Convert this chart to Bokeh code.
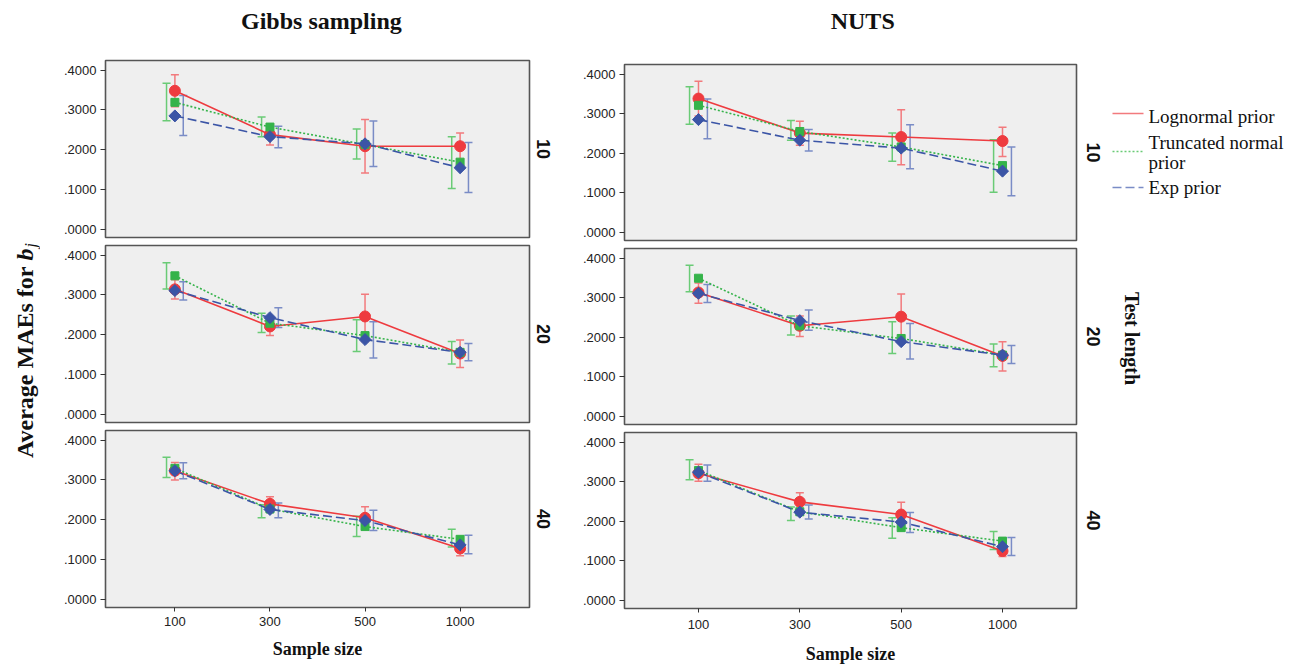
import math
from bokeh.plotting import figure
from bokeh.layouts import row, column
from bokeh.models import (Range1d, FixedTicker, CustomJSTickFormatter, ColumnDataSource,
                          Whisker, TeeHead)
from bokeh.core.properties import value
from bokeh.embed import file_html
from bokeh.resources import INLINE

# ---------------- data ----------------
SAMPLE_SIZES = ["100", "300", "500", "1000"]
SERIES = ["Lognormal prior", "Truncated normal prior", "Exp prior"]
TEST_LENGTHS = ["10", "20", "40"]
METHODS = ["Gibbs sampling", "NUTS"]
Y_TICKS = [0.0, 0.1, 0.2, 0.3, 0.4]

# Gibbs sampling, test length 10
GIBBS_10_LOGN = [0.348, 0.238, 0.209, 0.209]
GIBBS_10_LOGN_LO = [0.308, 0.212, 0.142, 0.176]
GIBBS_10_LOGN_HI = [0.388, 0.264, 0.276, 0.242]
GIBBS_10_TRUNC = [0.319, 0.257, 0.213, 0.169]
GIBBS_10_TRUNC_LO = [0.273, 0.233, 0.177, 0.103]
GIBBS_10_TRUNC_HI = [0.367, 0.282, 0.252, 0.233]
GIBBS_10_EXP = [0.285, 0.233, 0.215, 0.155]
GIBBS_10_EXP_LO = [0.236, 0.205, 0.158, 0.093]
GIBBS_10_EXP_HI = [0.336, 0.259, 0.272, 0.218]

# Gibbs sampling, test length 20
GIBBS_20_LOGN = [0.314, 0.221, 0.246, 0.153]
GIBBS_20_LOGN_LO = [0.290, 0.198, 0.183, 0.118]
GIBBS_20_LOGN_HI = [0.338, 0.244, 0.302, 0.187]
GIBBS_20_TRUNC = [0.348, 0.229, 0.198, 0.156]
GIBBS_20_TRUNC_LO = [0.315, 0.206, 0.158, 0.127]
GIBBS_20_TRUNC_HI = [0.381, 0.254, 0.238, 0.183]
GIBBS_20_EXP = [0.311, 0.243, 0.188, 0.156]
GIBBS_20_EXP_LO = [0.287, 0.218, 0.142, 0.135]
GIBBS_20_EXP_HI = [0.333, 0.268, 0.233, 0.178]

# Gibbs sampling, test length 40
GIBBS_40_LOGN = [0.323, 0.240, 0.205, 0.128]
GIBBS_40_LOGN_LO = [0.300, 0.222, 0.177, 0.110]
GIBBS_40_LOGN_HI = [0.344, 0.258, 0.233, 0.142]
GIBBS_40_TRUNC = [0.329, 0.227, 0.183, 0.151]
GIBBS_40_TRUNC_LO = [0.306, 0.205, 0.158, 0.132]
GIBBS_40_TRUNC_HI = [0.357, 0.238, 0.209, 0.176]
GIBBS_40_EXP = [0.323, 0.226, 0.198, 0.137]
GIBBS_40_EXP_LO = [0.303, 0.205, 0.173, 0.115]
GIBBS_40_EXP_HI = [0.343, 0.242, 0.224, 0.161]

# NUTS, test length 10
NUTS_10_LOGN = [0.338, 0.251, 0.241, 0.231]
NUTS_10_LOGN_LO = [0.294, 0.220, 0.171, 0.192]
NUTS_10_LOGN_HI = [0.382, 0.281, 0.310, 0.266]
NUTS_10_TRUNC = [0.321, 0.255, 0.216, 0.169]
NUTS_10_TRUNC_LO = [0.273, 0.233, 0.180, 0.102]
NUTS_10_TRUNC_HI = [0.368, 0.283, 0.251, 0.234]
NUTS_10_EXP = [0.285, 0.233, 0.213, 0.155]
NUTS_10_EXP_LO = [0.237, 0.206, 0.161, 0.093]
NUTS_10_EXP_HI = [0.337, 0.260, 0.272, 0.216]

# NUTS, test length 20
NUTS_20_LOGN = [0.313, 0.229, 0.252, 0.153]
NUTS_20_LOGN_LO = [0.286, 0.202, 0.191, 0.115]
NUTS_20_LOGN_HI = [0.337, 0.254, 0.309, 0.189]
NUTS_20_TRUNC = [0.349, 0.229, 0.197, 0.155]
NUTS_20_TRUNC_LO = [0.315, 0.206, 0.159, 0.126]
NUTS_20_TRUNC_HI = [0.382, 0.254, 0.239, 0.183]
NUTS_20_EXP = [0.311, 0.242, 0.189, 0.155]
NUTS_20_EXP_LO = [0.288, 0.218, 0.145, 0.134]
NUTS_20_EXP_HI = [0.333, 0.269, 0.235, 0.179]

# NUTS, test length 40
NUTS_40_LOGN = [0.321, 0.249, 0.217, 0.125]
NUTS_40_LOGN_LO = [0.301, 0.226, 0.186, 0.111]
NUTS_40_LOGN_HI = [0.344, 0.272, 0.248, 0.142]
NUTS_40_TRUNC = [0.328, 0.224, 0.184, 0.150]
NUTS_40_TRUNC_LO = [0.305, 0.202, 0.157, 0.129]
NUTS_40_TRUNC_HI = [0.355, 0.236, 0.209, 0.174]
NUTS_40_EXP = [0.324, 0.223, 0.198, 0.136]
NUTS_40_EXP_LO = [0.301, 0.206, 0.172, 0.114]
NUTS_40_EXP_HI = [0.342, 0.241, 0.222, 0.159]

PANEL_DATA = {
    ("Gibbs sampling", "10"): [(GIBBS_10_LOGN, GIBBS_10_LOGN_LO, GIBBS_10_LOGN_HI),
                               (GIBBS_10_TRUNC, GIBBS_10_TRUNC_LO, GIBBS_10_TRUNC_HI),
                               (GIBBS_10_EXP, GIBBS_10_EXP_LO, GIBBS_10_EXP_HI)],
    ("Gibbs sampling", "20"): [(GIBBS_20_LOGN, GIBBS_20_LOGN_LO, GIBBS_20_LOGN_HI),
                               (GIBBS_20_TRUNC, GIBBS_20_TRUNC_LO, GIBBS_20_TRUNC_HI),
                               (GIBBS_20_EXP, GIBBS_20_EXP_LO, GIBBS_20_EXP_HI)],
    ("Gibbs sampling", "40"): [(GIBBS_40_LOGN, GIBBS_40_LOGN_LO, GIBBS_40_LOGN_HI),
                               (GIBBS_40_TRUNC, GIBBS_40_TRUNC_LO, GIBBS_40_TRUNC_HI),
                               (GIBBS_40_EXP, GIBBS_40_EXP_LO, GIBBS_40_EXP_HI)],
    ("NUTS", "10"): [(NUTS_10_LOGN, NUTS_10_LOGN_LO, NUTS_10_LOGN_HI),
                     (NUTS_10_TRUNC, NUTS_10_TRUNC_LO, NUTS_10_TRUNC_HI),
                     (NUTS_10_EXP, NUTS_10_EXP_LO, NUTS_10_EXP_HI)],
    ("NUTS", "20"): [(NUTS_20_LOGN, NUTS_20_LOGN_LO, NUTS_20_LOGN_HI),
                     (NUTS_20_TRUNC, NUTS_20_TRUNC_LO, NUTS_20_TRUNC_HI),
                     (NUTS_20_EXP, NUTS_20_EXP_LO, NUTS_20_EXP_HI)],
    ("NUTS", "40"): [(NUTS_40_LOGN, NUTS_40_LOGN_LO, NUTS_40_LOGN_HI),
                     (NUTS_40_TRUNC, NUTS_40_TRUNC_LO, NUTS_40_TRUNC_HI),
                     (NUTS_40_EXP, NUTS_40_EXP_LO, NUTS_40_EXP_HI)],
}

# ---------------- styles ----------------
STYLE = {
    "Lognormal prior": dict(color="#ee3b3f", err="#f27a7d", dash="solid",
                            marker="circle", size=11, angle=0.0, off=0.0),
    "Truncated normal prior": dict(color="#35b34a", err="#6acb76", dash="2 2",
                                   marker="square", size=8, angle=0.0, off=-0.088),
    "Exp prior": dict(color="#3b55a6", err="#7a8cc6", dash="9 4",
                      marker="square", size=8.5, angle=math.pi / 4, off=0.088),
}
BG = "#efefef"
FRAME = "#555555"
SERIF_NAME = "Liberation Serif"
SANS_NAME = "Liberation Sans"
SERIF = value(SERIF_NAME)
SANS = value(SANS_NAME)
TOTAL_H = 668


def blank(w, h):
    p = figure(width=w, height=h, x_range=Range1d(0, w), y_range=Range1d(0, h),
               x_axis_location=None, y_axis_location=None, toolbar_location=None,
               output_backend="svg", min_border=0)
    p.outline_line_color = None
    p.grid.visible = False
    return p


def panel(method, tl, width, frame_h, left_b, right_b, top_b, bottom_b, with_x,
          tick_standoff=5, label_standoff=9):
    p = figure(width=width, height=frame_h + top_b + bottom_b,
               x_range=Range1d(-0.73, 3.73), y_range=Range1d(-0.02, 0.424),
               toolbar_location=None, output_backend="svg",
               x_axis_location="below" if with_x else None,
               min_border_left=left_b, min_border_right=right_b,
               min_border_top=top_b, min_border_bottom=bottom_b)
    p.background_fill_color = BG
    p.outline_line_color = FRAME
    p.outline_line_width = 1.6
    p.grid.visible = False

    ya = p.yaxis[0]
    ya.ticker = FixedTicker(ticks=Y_TICKS)
    ya.formatter = CustomJSTickFormatter(code="return tick.toFixed(4).replace(/^0/, '');")
    ya.major_label_text_font = SANS_NAME
    ya.major_label_text_font_size = "13px"
    ya.major_label_text_color = "#222222"
    ya.major_tick_out = 5
    ya.major_tick_in = 0
    ya.minor_tick_out = 0
    ya.minor_tick_in = 0
    ya.major_tick_line_color = "#333333"
    ya.axis_line_color = None
    ya.major_label_standoff = 4

    if with_x:
        xa = p.xaxis[0]
        xa.ticker = FixedTicker(ticks=list(range(len(SAMPLE_SIZES))))
        xa.major_label_overrides = {i: s for i, s in enumerate(SAMPLE_SIZES)}
        xa.major_label_text_font = SANS_NAME
        xa.major_label_text_font_size = "13px"
        xa.major_label_text_color = "#222222"
        xa.major_tick_out = 4
        xa.major_tick_in = 0
        xa.minor_tick_out = 0
        xa.minor_tick_in = 0
        xa.major_tick_line_color = "#333333"
        xa.axis_line_color = None
        xa.major_label_standoff = tick_standoff
        xa.axis_label = "Sample size"
        xa.axis_label_text_font = SERIF_NAME
        xa.axis_label_text_font_size = "18px"
        xa.axis_label_text_font_style = "bold"
        xa.axis_label_text_color = "#111111"
        xa.axis_label_standoff = label_standoff

    xs = list(range(len(SAMPLE_SIZES)))
    data = PANEL_DATA[(method, tl)]
    # error bars (dodged)
    for name, (mean, lo, hi) in zip(SERIES, data):
        st = STYLE[name]
        src = ColumnDataSource(dict(x=[x + st["off"] for x in xs], lo=lo, hi=hi))
        w = Whisker(source=src, base="x", lower="lo", upper="hi", dimension="height",
                    line_color=st["err"], line_width=1.5, level="underlay",
                    upper_head=TeeHead(size=8, line_color=st["err"], line_width=1.5),
                    lower_head=TeeHead(size=8, line_color=st["err"], line_width=1.5))
        p.add_layout(w)
    # lines
    for name, (mean, lo, hi) in zip(SERIES, data):
        st = STYLE[name]
        p.line(xs, mean, line_color=st["color"], line_width=1.6, line_dash=st["dash"])
    # markers
    for name, (mean, lo, hi) in zip(SERIES, data):
        st = STYLE[name]
        p.scatter(xs, mean, marker=st["marker"], size=st["size"], angle=st["angle"],
                  fill_color=st["color"], line_color=st["color"])
    return p


# ---------------- left column (Gibbs) ----------------
L_W = 491
title_L = blank(L_W, 56)
title_L.text(x=[250], y=[56 - 20], text=[METHODS[0]], text_font=SERIF,
             text_font_size="24px", text_font_style="bold", text_align="center",
             text_baseline="middle", text_color="#111111")
L1 = panel(METHODS[0], "10", L_W, 177, 65, 2, 4, 4, False)
L2 = panel(METHODS[0], "20", L_W, 177, 65, 2, 4, 4, False)
L3 = panel(METHODS[0], "40", L_W, 177, 65, 2, 4, 61, True, tick_standoff=5, label_standoff=10)
left_col = column(title_L, L1, L2, L3)

# ---------------- right column (NUTS) ----------------
R_W = 518
title_R = blank(R_W, 60)
title_R.text(x=[273], y=[60 - 20], text=[METHODS[1]], text_font=SERIF,
             text_font_size="24px", text_font_style="bold", text_align="center",
             text_baseline="middle", text_color="#111111")
R1 = panel(METHODS[1], "10", R_W, 176, 64, 2, 4, 4, False)
R2 = panel(METHODS[1], "20", R_W, 176, 64, 2, 4, 4, False)
R3 = panel(METHODS[1], "40", R_W, 176, 64, 2, 4, 60, True, tick_standoff=7, label_standoff=12)
right_col = column(title_R, R1, R2, R3)

# ---------------- y label strip ----------------
ylab = blank(40, TOTAL_H)
ylab.text(x=[24], y=[TOTAL_H - 266], text=["Average MAEs for"], text_font=SERIF,
          text_font_size="24px", text_font_style="bold", text_align="right",
          text_baseline="middle", angle=math.pi / 2, text_color="#111111")
ylab.text(x=[24], y=[TOTAL_H - 260], text=["b"], text_font=SERIF,
          text_font_size="24px", text_font_style="bold italic", text_align="left",
          text_baseline="middle", angle=math.pi / 2, text_color="#111111")
ylab.text(x=[30], y=[TOTAL_H - 247], text=["j"], text_font=SERIF,
          text_font_size="16px", text_font_style="italic", text_align="left",
          text_baseline="middle", angle=math.pi / 2, text_color="#111111")

# ---------------- strip between columns (row labels for Gibbs) ----------------
MID_W = 29
mid = blank(MID_W, TOTAL_H)
mid.text(x=[12, 12, 12], y=[TOTAL_H - 148.5, TOTAL_H - 333.5, TOTAL_H - 518.5],
         text=TEST_LENGTHS, text_font=SANS, text_font_size="18px", text_font_style="bold",
         text_align="center", text_baseline="middle", angle=-math.pi / 2,
         text_color="#111111")

# ---------------- right strip (row labels, legend, facet title) ----------------
RS_W = 1305 - 40 - L_W - MID_W - R_W
rs = blank(RS_W, TOTAL_H)
rs.text(x=[15, 15, 15], y=[TOTAL_H - 152, TOTAL_H - 336, TOTAL_H - 520],
        text=TEST_LENGTHS, text_font=SANS, text_font_size="18px", text_font_style="bold",
        text_align="center", text_baseline="middle", angle=-math.pi / 2,
        text_color="#111111")
rs.text(x=[53], y=[TOTAL_H - 338], text=["Test length"], text_font=SERIF,
        text_font_size="20px", text_font_style="bold", text_align="center",
        text_baseline="middle", angle=-math.pi / 2, text_color="#111111")

legend_line_y = [113, 151, 187]
legend_label_lines = [["Lognormal prior"], ["Truncated normal", "prior"], ["Exp prior"]]
legend_text_y = [[116], [142, 162], [187]]
for name, ly, labs, tys in zip(SERIES, legend_line_y, legend_label_lines, legend_text_y):
    st = STYLE[name]
    rs.line([34, 65], [TOTAL_H - ly, TOTAL_H - ly], line_color=st["err"],
            line_width=1.6, line_dash=st["dash"])
    rs.text(x=[70] * len(labs), y=[TOTAL_H - t for t in tys], text=labs, text_font=SERIF,
            text_font_size="19px", text_align="left", text_baseline="middle",
            text_color="#111111")

layout = row(ylab, left_col, mid, right_col, rs)

open("out.html", "w").write(file_html(layout, INLINE))
